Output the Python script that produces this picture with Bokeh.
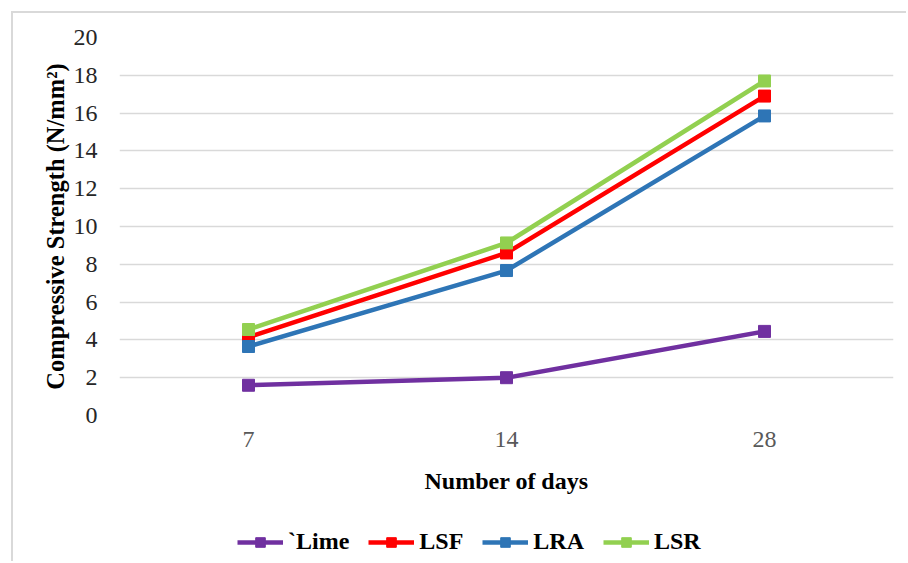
from bokeh.plotting import figure
from bokeh.layouts import column
from bokeh.models import FactorRange, Range1d, Legend, LegendItem, FixedTicker
from bokeh.embed import file_html
from bokeh.resources import INLINE

days = ["7", "14", "28"]
lime = [1.6, 2.0, 4.45]
lsf = [4.15, 8.6, 16.9]
lra = [3.65, 7.67, 15.85]
lsr = [4.55, 9.13, 17.7]
series_names = ["`Lime", "LSF", "LRA", "LSR"]
series_colors = ["#7030A0", "#FF0000", "#2E75B6", "#92D050"]
y_ticks = list(range(0, 21, 2))

FONT = "'Liberation Serif', 'Times New Roman', serif"
BORDER = "2px solid #d9d9d9"

p = figure(width=895, height=492, x_range=FactorRange(*days, range_padding=0),
           y_range=Range1d(0, 20), output_backend="svg", toolbar_location=None,
           min_border_left=106, min_border_right=15, min_border_top=24,
           min_border_bottom=90, margin=(11, 0, 0, 11),
           styles={"border-top": BORDER, "border-left": BORDER})
p.outline_line_color = None
p.background_fill_color = "white"
p.border_fill_color = "white"

p.xgrid.grid_line_color = None
p.ygrid.grid_line_color = "#d9d9d9"
p.ygrid.grid_line_width = 1.5
p.yaxis.ticker = FixedTicker(ticks=y_ticks)

for ax in (p.xaxis, p.yaxis):
    ax.axis_line_color = None
    ax.major_tick_line_color = None
    ax.minor_tick_line_color = None
    ax.major_label_text_font = FONT
    ax.major_label_text_font_size = "24px"
    ax.axis_label_text_font = FONT
    ax.axis_label_text_font_size = "24px"
    ax.axis_label_text_font_style = "bold"
    ax.axis_label_text_color = "black"

p.yaxis.axis_label_text_font_size = "24.5px"
p.yaxis.major_label_text_color = "#262626"
p.xaxis.major_label_text_color = "#595959"
p.yaxis.major_label_standoff = 16
p.xaxis.major_label_standoff = 10
p.yaxis.axis_label = "Compressive Strength (N/mm²)"
p.xaxis.axis_label = "Number of days"
p.yaxis.axis_label_standoff = 2
p.xaxis.axis_label_standoff = 18

all_series = [lime, lsf, lra, lsr]
for vals, col in zip(all_series, series_colors):
    p.line(days, vals, line_color=col, line_width=4.5)
    p.scatter(days, vals, marker="square", size=12, fill_color=col, line_color=col)

# legend strip below the chart (series drawn out of its visible range; only the legend shows)
q = figure(width=895, height=58, x_range=FactorRange(*days), y_range=Range1d(-3, -2),
           output_backend="svg", toolbar_location=None,
           x_axis_location=None, y_axis_location=None,
           min_border=0, margin=(0, 0, 0, 11), styles={"border-left": BORDER})
q.grid.visible = False
q.outline_line_color = None
items = []
for name, vals, col in zip(series_names, all_series, series_colors):
    ln = q.line(days, vals, line_color=col, line_width=4.5)
    sc = q.scatter(days, vals, marker="square", size=12, fill_color=col, line_color=col)
    items.append(LegendItem(label=name, renderers=[ln, sc]))

legend = Legend(items=items, orientation="horizontal", location=(118, 6),
                label_text_font=FONT, label_text_font_size="24px",
                label_text_font_style="bold", label_text_color="black",
                glyph_width=46, glyph_height=24, label_standoff=5, spacing=19,
                padding=0, margin=0, border_line_color=None, background_fill_alpha=0)
q.add_layout(legend, "center")

layout = column(p, q, spacing=0)
open("out.html", "w").write(file_html(layout, INLINE))
